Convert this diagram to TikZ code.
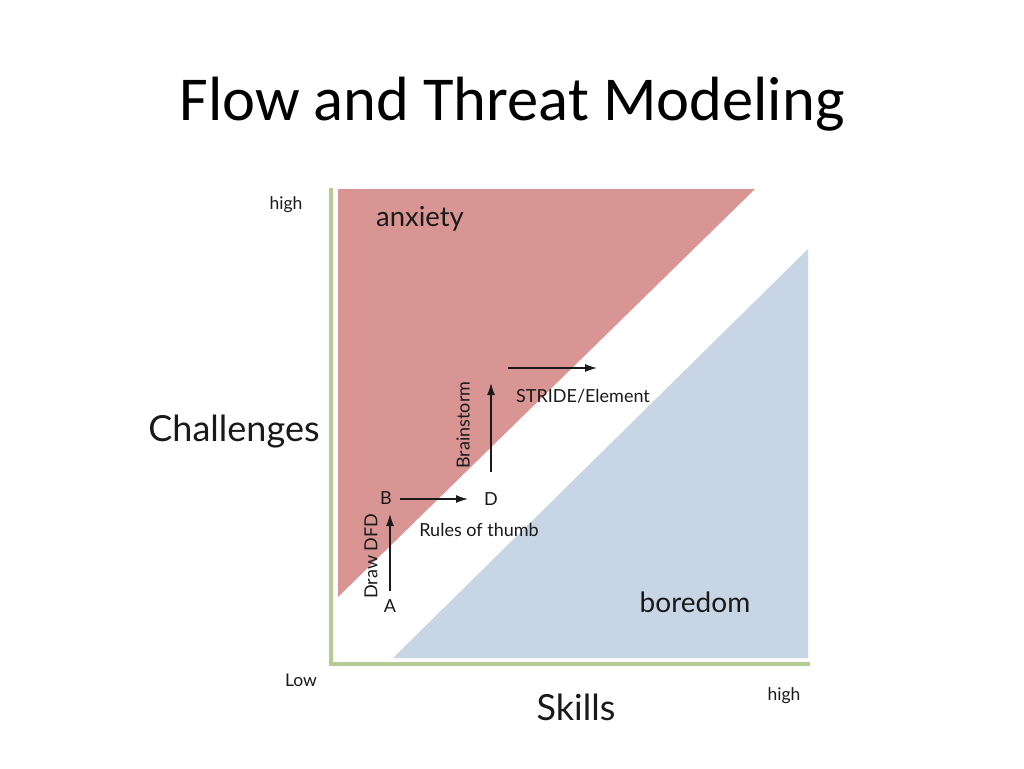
\documentclass[tikz,border=0pt]{standalone}
\usepackage{fontspec}
\setmainfont{Carlito}
\newfontfamily\gill{Lato}
\usetikzlibrary{arrows.meta}
\definecolor{anxred}{HTML}{D99594}
\definecolor{borblue}{HTML}{C8D5E4}
\definecolor{axgreen}{HTML}{B5CB92}
\definecolor{ink}{HTML}{1A1A1A}
\tikzset{
  lbl/.style={font=\gill, text=ink, inner sep=0pt, anchor=base},
  pt/.style={lbl, font=\gill\fontsize{18}{18}\selectfont},
  flowarrow/.style={draw=ink, line width=1.4pt, -{Latex[length=12pt,width=8pt]}},
}
\begin{document}
\begin{tikzpicture}[x=1pt,y=-1pt]
\useasboundingbox (0,0) rectangle (1024,768);
\fill[white] (0,0) rectangle (1024,768);
% title
\node[anchor=base, inner sep=0pt, font=\fontsize{62.5}{62.5}\selectfont] (title) at (512,120) {Flow and Threat Modeling};
% regions
\fill[anxred] (338,189) -- (755,189) -- (338,597) -- cycle;
\fill[borblue] (808,249) -- (808,658) -- (393,658) -- cycle;
% axes
\draw[axgreen, line width=4pt] (331,188) -- (331,664) -- (810,664);
% axis labels
\node[lbl, font=\gill\fontsize{17.5}{17.5}\selectfont] (hy) at (286,209) {high};
\node[lbl, font=\gill\fontsize{17.5}{17.5}\selectfont] (lo) at (301,686) {Low};
\node[lbl, font=\gill\fontsize{17.5}{17.5}\selectfont] (hx) at (784,700) {high};
\node[lbl, font=\gill\fontsize{36}{36}\selectfont] (ch) at (234,441) {Challenges};
\node[lbl, font=\gill\fontsize{36}{36}\selectfont] (sk) at (576,720) {Skills};
\node[lbl, font=\gill\fontsize{27.5}{27.5}\selectfont] (ax) at (420,226) {anxiety};
\node[lbl, font=\gill\fontsize{28}{28}\selectfont] (bo) at (695,612) {boredom};
% points
\node[pt] (A) at (390,612) {A};
\node[pt] (B) at (386,504) {B};
\node[pt] (D) at (491,505) {D};
\coordinate (Dtop) at (491,383);
\coordinate (Sstart) at (508,368);
\coordinate (Send) at (597,368);
\draw[flowarrow] (390,591) -- (390,514);
\draw[flowarrow] (400,499) -- (468,499);
\draw[flowarrow] (491,472) -- (Dtop);
\draw[flowarrow] (Sstart) -- (Send);
% step labels
\node[pt, anchor=center, rotate=90] (dfd) at (371,556) {Draw DFD};
\node[pt, anchor=center, rotate=90] (bs) at (463,425) {Brainstorm};
\node[pt] (rt) at (479,536) {Rules of thumb};
\node[pt] (se) at (583,402) {STRIDE/Element};
\end{tikzpicture}
\end{document}
